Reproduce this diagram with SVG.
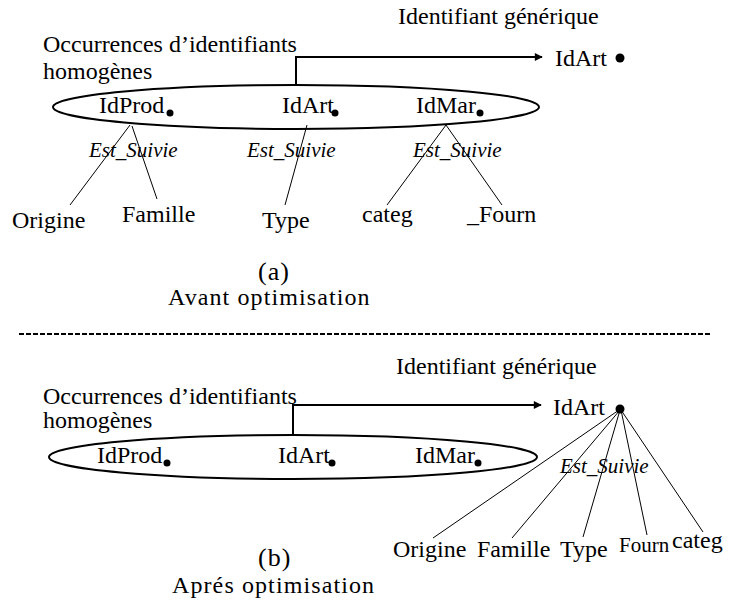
<svg xmlns="http://www.w3.org/2000/svg" width="731" height="605" viewBox="0 0 731 605">
  <style>
    text { font-family: "Liberation Serif", "Times New Roman", Tinos, "DejaVu Serif", serif; fill: #000; }
    .t { font-size: 24px; }
    .small { font-size: 21px; }
    .rel { font-size: 21px; font-style: italic; }
    .cap { font-size: 26px; letter-spacing: 1px; }
    .sub { font-size: 24px; letter-spacing: 1.1px; }
    .edge { stroke: #000; stroke-width: 1; fill: none; }
    .gen { stroke: #000; stroke-width: 2; fill: none; }
    .set { stroke: #000; stroke-width: 2; fill: none; }
    .dot { fill: #000; }
  </style>
  <defs>
    <marker id="arrow" viewBox="0 0 10 10" refX="9" refY="5" markerWidth="5" markerHeight="4" orient="auto" markerUnits="strokeWidth">
      <path d="M0,0 L10,5 L0,10 z" fill="#000"/>
    </marker>
  </defs>

  <rect width="731" height="605" fill="#fff"/>

  <!-- (a) before optimisation -->
  <g id="label-generic-a"><text class="t" x="398" y="24">Identifiant générique</text></g>
  <g id="label-occurrences-a">
    <text class="t" x="43" y="52">Occurrences d’identifiants</text>
    <text class="t" x="43" y="79">homogènes</text>
  </g>
  <g id="set-a">
    <ellipse class="set" cx="296" cy="107" rx="243" ry="22"/>
  </g>
  <g id="idprod-a"><text class="t" x="99" y="113">IdProd</text><circle class="dot" cx="170" cy="113" r="3.5"/></g>
  <g id="idart-a"><text class="t" x="282" y="113">IdArt</text><circle class="dot" cx="335" cy="113" r="3.5"/></g>
  <g id="idmar-a"><text class="t" x="416" y="113">IdMar</text><circle class="dot" cx="480" cy="113" r="3.5"/></g>
  <g id="idart-generic-a"><text class="t" x="555" y="66">IdArt</text><circle class="dot" cx="620" cy="58" r="4.5"/></g>

  <g id="rel-labels-a">
    <text class="rel" x="89" y="157">Est_Suivie</text>
    <text class="rel" x="247" y="157">Est_Suivie</text>
    <text class="rel" x="413" y="157">Est_Suivie</text>
  </g>
  <g id="origine-a"><text class="t" x="12" y="228">Origine</text></g>
  <g id="famille-a"><text class="t" x="122" y="222">Famille</text></g>
  <g id="type-a"><text class="t" x="262" y="228">Type</text></g>
  <g id="categ-a"><text class="t" x="362" y="222">categ</text></g>
  <g id="fourn-a"><text class="t" x="467" y="222">_Fourn</text></g>

  <g id="connectors-a">
    <path class="gen" d="M296,85 V57 H542" marker-end="url(#arrow)"/>
    <line class="edge" x1="130" y1="125" x2="70" y2="205"/>
    <line class="edge" x1="132" y1="126" x2="157" y2="199"/>
    <line class="edge" x1="307" y1="125" x2="285" y2="205"/>
    <line class="edge" x1="446" y1="125" x2="387" y2="205"/>
    <line class="edge" x1="446" y1="125" x2="502" y2="205"/>
  </g>

  <g id="caption-a">
    <text class="cap" x="258" y="280">(a)</text>
    <text class="sub" x="168" y="305">Avant optimisation</text>
  </g>

  <!-- separator -->
  <line x1="19" y1="334" x2="710" y2="334" stroke="#000" stroke-width="2" stroke-dasharray="5 2"/>

  <!-- (b) after optimisation -->
  <g id="label-generic-b"><text class="t" x="396" y="374">Identifiant générique</text></g>
  <g id="label-occurrences-b">
    <text class="t" x="43" y="404">Occurrences d’identifiants</text>
    <text class="t" x="43" y="428">homogènes</text>
  </g>
  <g id="set-b">
    <ellipse class="set" cx="293" cy="457" rx="244" ry="22"/>
  </g>
  <g id="idprod-b"><text class="t" x="97" y="463">IdProd</text><circle class="dot" cx="167" cy="463" r="3.5"/></g>
  <g id="idart-b"><text class="t" x="278" y="463">IdArt</text><circle class="dot" cx="332" cy="463" r="3.5"/></g>
  <g id="idmar-b"><text class="t" x="415" y="463">IdMar</text><circle class="dot" cx="478" cy="463" r="3.5"/></g>
  <g id="idart-generic-b"><text class="t" x="553" y="415">IdArt</text><circle class="dot" cx="620" cy="409" r="4.5"/></g>

  <g id="rel-label-b"><text class="rel" x="560" y="473">Est_Suivie</text></g>
  <g id="origine-b"><text class="t" x="393" y="557">Origine</text></g>
  <g id="famille-b"><text class="t" x="477" y="557">Famille</text></g>
  <g id="type-b"><text class="t" x="560" y="557">Type</text></g>
  <g id="fourn-b"><text class="small" x="619" y="552">Fourn</text></g>
  <g id="categ-b"><text class="t" x="672" y="548">categ</text></g>

  <g id="connectors-b">
    <path class="gen" d="M293,435 V405 H541" marker-end="url(#arrow)"/>
    <line class="edge" x1="619" y1="410" x2="433" y2="538"/>
    <line class="edge" x1="620" y1="410" x2="512" y2="538"/>
    <line class="edge" x1="620" y1="410" x2="583" y2="537"/>
    <line class="edge" x1="621" y1="410" x2="647" y2="535"/>
    <line class="edge" x1="621" y1="410" x2="703" y2="532"/>
  </g>

  <g id="caption-b">
    <text class="cap" x="258" y="566">(b)</text>
    <text class="sub" x="172" y="593">Aprés optimisation</text>
  </g>
</svg>
